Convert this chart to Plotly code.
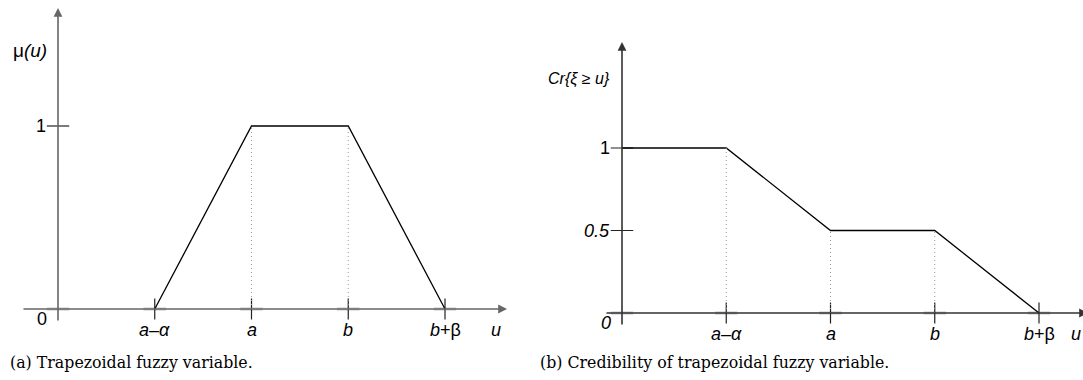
import plotly.graph_objects as go

# ---- data ----
u_ticks = [1, 2, 3, 4]
u_tick_labels = ["<i>a</i>–<i>α</i>", "<i>a</i>", "<i>b</i>", "<i>b</i>+β"]

mu_x = [1, 2, 3, 4]
mu_y = [0, 1, 1, 0]

cr_x = [0, 1, 2, 3, 4]
cr_y = [1, 1, 0.5, 0.5, 0]

W, H = 1083, 380
SANS = "Liberation Sans, Arial, sans-serif"
SERIF = "DejaVu Serif, serif"

fig = go.Figure()

# pixel calibration
Lx0, Lux, Ly0, Luy = 58, 96.75, 309, 183
Rx0, Rux, Ry0, Ruy = 622, 104.25, 313, 165

def xrange_for(dom, x0, ux):
    return [(dom[0] * W - x0) / ux, (dom[1] * W - x0) / ux]

def yrange_for(y0, uy):
    return [-(H - y0) / uy, y0 / uy]

ldom, rdom = [0, 0.5], [0.5, 1.0]
ax_common = dict(visible=False, showgrid=False, zeroline=False, fixedrange=True)
fig.update_layout(
    xaxis=dict(domain=ldom, range=xrange_for(ldom, Lx0, Lux), anchor="y", **ax_common),
    yaxis=dict(domain=[0, 1], range=yrange_for(Ly0, Luy), anchor="x", **ax_common),
    xaxis2=dict(domain=rdom, range=xrange_for(rdom, Rx0, Rux), anchor="y2", **ax_common),
    yaxis2=dict(domain=[0, 1], range=yrange_for(Ry0, Ruy), anchor="x2", **ax_common),
)

shapes = []
annos = []

def panel(xr, yr, x0, ux, y0, uy, xs, ys, drops, ylabels, ylabel_text, ylabel_pos, zero_italic,
          u_px, ylab_size, ax_col):
    xref, yref = xr, yr
    x_start = (-36 / ux) if xr == "x" else (-17 / ux)
    x_end = (507 - x0) / ux if xr == "x" else (1088 - x0) / ux
    y_start = -13 / uy
    y_end = (y0 - (8 if xr == "x" else 42)) / uy
    annos.append(dict(x=x_end, y=0, ax=x_start, ay=0, xref=xref, yref=yref, axref=xref, ayref=yref,
                      showarrow=True, arrowhead=2, arrowsize=1.1, arrowwidth=1.6, arrowcolor=ax_col, text=""))
    annos.append(dict(x=0, y=y_end, ax=0, ay=y_start, xref=xref, yref=yref, axref=xref, ayref=yref,
                      showarrow=True, arrowhead=2, arrowsize=1.1, arrowwidth=1.6, arrowcolor=ax_col, text=""))
    for (dx, dy) in drops:
        shapes.append(dict(type="line", xref=xref, yref=yref, x0=dx, x1=dx, y0=0, y1=dy,
                           line=dict(color="#999999", width=1, dash="1px,3px")))
    fig.add_trace(go.Scatter(x=[0] + u_ticks, y=[0] * 5, mode="markers", xaxis=xr, yaxis=yr,
                             marker=dict(symbol="line-ew-open", size=16, color="#c4c4c4",
                                         line=dict(color="#c4c4c4", width=3)),
                             hoverinfo="skip", showlegend=False))
    fig.add_trace(go.Scatter(x=u_ticks, y=[0] * 4, mode="markers", xaxis=xr, yaxis=yr,
                             marker=dict(symbol="line-ns-open", size=15, color="#222222",
                                         line=dict(color="#222222", width=1.2)),
                             hoverinfo="skip", showlegend=False))
    fig.add_trace(go.Scatter(x=[0] * len(ylabels), y=[v for v, _ in ylabels], mode="markers", xaxis=xr, yaxis=yr,
                             marker=dict(symbol="line-ew-open", size=16, color="#222222",
                                         line=dict(color="#222222", width=1.2)),
                             hoverinfo="skip", showlegend=False))
    fig.add_trace(go.Scatter(x=xs, y=ys, mode="lines", xaxis=xr, yaxis=yr,
                             line=dict(color="black", width=1.3), hoverinfo="skip", showlegend=False))
    for t, lab in zip(u_ticks, u_tick_labels):
        annos.append(dict(x=t, y=0, xref=xref, yref=yref, text=lab, showarrow=False,
                          xanchor="center", yanchor="middle", yshift=-21,
                          font=dict(family=SANS, size=18, color="black")))
    annos.append(dict(x=(u_px - x0) / ux, y=0, xref=xref, yref=yref,
                      text="<i>u</i>", showarrow=False, xanchor="center", yanchor="middle", yshift=-21,
                      font=dict(family=SANS, size=18, color="black")))
    annos.append(dict(x=0, y=0, xref=xref, yref=yref, text="<i>0</i>" if zero_italic else "0",
                      showarrow=False, xanchor="right", yanchor="middle", xshift=-9, yshift=-10,
                      font=dict(family=SANS, size=18, color="black")))
    for v, lab in ylabels:
        annos.append(dict(x=0, y=v, xref=xref, yref=yref, text=lab, showarrow=False,
                          xanchor="right", yanchor="middle", xshift=-10,
                          font=dict(family=SANS, size=18, color="black")))
    annos.append(dict(x=ylabel_pos[0], y=ylabel_pos[1], xref="paper", yref="paper", text=ylabel_text,
                      showarrow=False, xanchor="center", yanchor="middle",
                      font=dict(family=SANS, size=ylab_size, color="black")))

panel("x", "y", Lx0, Lux, Ly0, Luy, mu_x, mu_y,
      drops=[(2, 1), (3, 1)], ylabels=[(1, "1")],
      ylabel_text="μ<i>(u)</i>", ylabel_pos=(30 / W, 1 - 51 / H), zero_italic=False,
      u_px=496, ylab_size=19, ax_col="#666666")
panel("x2", "y2", Rx0, Rux, Ry0, Ruy, cr_x, cr_y,
      drops=[(1, 1), (2, 0.5), (3, 0.5)], ylabels=[(1, "1"), (0.5, "<i>0.5</i>")],
      ylabel_text="<i>Cr{ξ ≥ u}</i>", ylabel_pos=(579 / W, 1 - 79 / H), zero_italic=True,
      u_px=1076, ylab_size=16, ax_col="#333333")

annos.append(dict(x=8 / W, y=1 - 362 / H, xref="paper", yref="paper", text="(a) Trapezoidal fuzzy variable.",
                  showarrow=False, xanchor="left", yanchor="middle",
                  font=dict(family=SERIF, size=15.8, color="black")))
annos.append(dict(x=538 / W, y=1 - 362 / H, xref="paper", yref="paper",
                  text="(b) Credibility of trapezoidal fuzzy variable.",
                  showarrow=False, xanchor="left", yanchor="middle",
                  font=dict(family=SERIF, size=15.8, color="black")))

fig.update_layout(width=W, height=H, margin=dict(l=0, r=0, t=0, b=0),
                  paper_bgcolor="white", plot_bgcolor="white",
                  shapes=shapes, annotations=annos, showlegend=False)

fig.write_html("out.html", config=dict(displayModeBar=False),
               post_script="document.body.style.margin='0px';document.body.style.padding='0px';")
